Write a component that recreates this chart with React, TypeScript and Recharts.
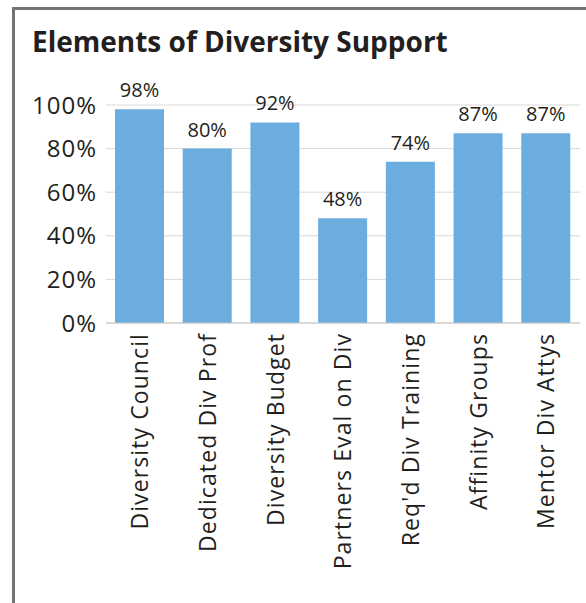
import { BarChart, Bar, XAxis, YAxis, CartesianGrid, LabelList } from 'recharts';

const categories = [
    'Diversity Council',
    'Dedicated Div Prof',
    'Diversity Budget',
    'Partners Eval on Div',
    "Req'd Div Training",
    'Affinity Groups',
    'Mentor Div Attys',
];
const shares = [98, 80, 92, 48, 74, 87, 87];
const yTicks = [0, 20, 40, 60, 80, 100];

const data = categories.map((name, i) => ({ name, value: shares[i] }));

const FONT = '"Open Sans", sans-serif';
const INK = '#231f20';

// rotated category label, reading bottom-to-top, end anchored under the axis
const CategoryTick = (props: any) => {
    const { x, y, payload } = props;
    return (
        <text
            x={x}
            y={y}
            dy="0.36em"
            transform={`rotate(-90, ${x}, ${y})`}
            textAnchor="end"
            fill={INK}
            fontSize={23}
            letterSpacing={1.1}
            fontFamily={FONT}
        >
            {payload.value}
        </text>
    );
};

export default function App() {
    return (
        <div style={{ position: 'absolute', left: 0, top: 0, width: 586, height: 603, background: '#fff', overflow: 'hidden' }}>
            {/* frame */}
            <div
                style={{
                    position: 'absolute', left: 12, top: 7, width: 600, height: 620,
                    borderLeft: '3px solid #747474', borderTop: '3px solid #747474',
                }}
            />
            <div
                style={{
                    position: 'absolute', left: 32, top: 24, fontFamily: FONT, fontWeight: 700,
                    fontSize: 28, lineHeight: '34px', color: INK, whiteSpace: 'nowrap',
                }}
            >
                Elements of Diversity Support
            </div>
            <div style={{ position: 'absolute', left: 0, top: 0 }}>
                <BarChart width={586} height={603} data={data} margin={{ top: 105, right: 6, left: 0, bottom: 0 }}>
                    <CartesianGrid vertical={false} stroke="#d9d9d9" />
                    <XAxis
                        dataKey="name"
                        interval={0}
                        height={280}
                        tick={<CategoryTick />}
                        tickLine={false}
                        tickSize={0}
                        tickMargin={10}
                        axisLine={{ stroke: '#c6c6c6' }}
                    />
                    <YAxis
                        width={106}
                        domain={[0, 100]}
                        ticks={yTicks}
                        tickFormatter={(v) => `${v}%`}
                        axisLine={false}
                        tickLine={false}
                        tickSize={0}
                        tickMargin={9}
                        tick={{ fill: INK, fontSize: 24, fontFamily: FONT, letterSpacing: 1 }}
                    />
                    <Bar dataKey="value" fill="#6cade0" barSize={49} isAnimationActive={false}>
                        <LabelList
                            dataKey="value"
                            position="top"
                            offset={12}
                            formatter={(v: any) => `${v}%`}
                            fill={INK}
                            fontSize={20}
                            fontFamily={FONT}
                        />
                    </Bar>
                </BarChart>
            </div>
        </div>
    );
}
